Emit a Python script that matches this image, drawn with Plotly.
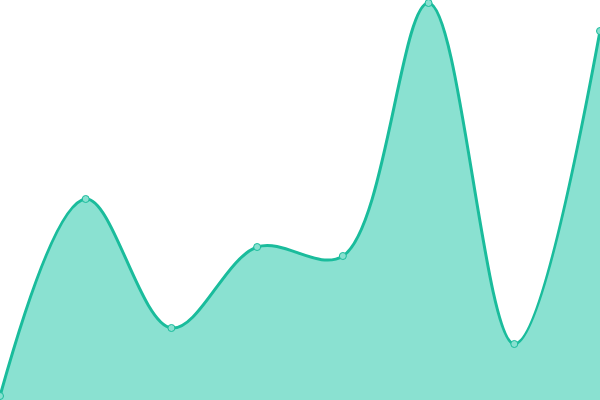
import plotly.graph_objects as go

categories = [0, 1, 2, 3, 4, 5, 6, 7]
values = [4, 201, 72, 153, 144, 397, 56, 369]

fig = go.Figure()
fig.add_trace(go.Scatter(
    x=categories, y=values,
    mode="lines+markers",
    line=dict(color="#1abc9c", width=3, shape="spline", smoothing=1),
    marker=dict(size=7, color="#88e0d0", line=dict(color="#1abc9c", width=1)),
    fill="tozeroy",
    fillcolor="rgba(22,196,163,0.5)",
    cliponaxis=False,
    hoverinfo="skip",
))
fig.update_layout(
    width=600, height=400,
    margin=dict(l=0, r=0, t=0, b=0),
    paper_bgcolor="white", plot_bgcolor="white",
    showlegend=False,
    xaxis=dict(range=[0, 7], visible=False, fixedrange=True),
    yaxis=dict(range=[0, 400], visible=False, fixedrange=True),
)
fig.write_html(
    "out.html",
    config={"displayModeBar": False},
    post_script="document.body.style.margin='0';document.body.style.overflow='hidden';",
)
